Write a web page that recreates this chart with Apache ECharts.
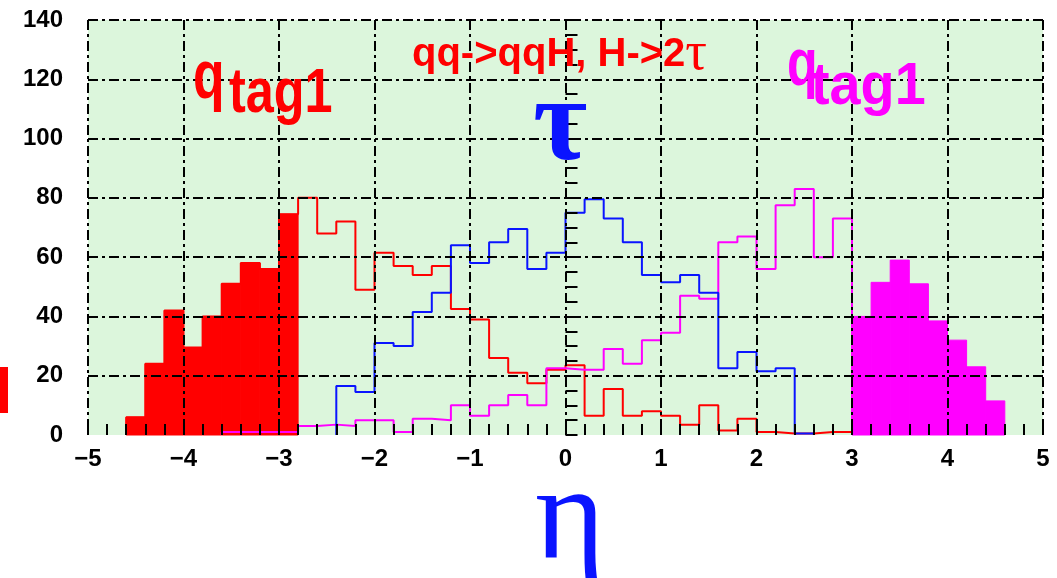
<!DOCTYPE html>
<html>
<head>
<meta charset="utf-8">
<style>html,body{margin:0;padding:0;background:#fff;}#c{width:1057px;height:578px;}</style>
<script src="https://cdn.jsdelivr.net/npm/echarts@6/dist/echarts.min.js"></script>
</head>
<body>
<div id="c"></div>
<script>
// ---- data (bin width 0.2 in eta) ----
const binWidth = 0.2;
const redStart = -4.6;   // q_tag1 (left) + its continuation
const redCounts = [6, 24, 42, 29.5, 40, 51, 58, 56, 74.5,
  80, 68, 72, 49, 61.5, 57, 54, 57, 42.5, 39,
  26, 21, 17.5, 22, 23.5, 6.5, 15.5, 6.5, 8, 6.5,
  3.5, 10, 1.5, 5.5, 1, 0.5, 0.5, 1, 1];
const redFilledBins = 9;
const blueStart = -2.4;  // tau
const blueCounts = [16.5, 14.5, 31, 30, 41.5, 48, 64, 58, 65, 69.5, 56, 61.5,
  75, 79.5, 73, 65, 54, 51.5, 54, 48, 22.5, 28, 21.5, 22.5, 0.5];
const magStart = -3.6;   // q_tag1 (right) continuation
const magCounts = [1, 1, 1, 1, 3, 3.5, 3, 5, 5, 1, 5.5, 5, 10, 6.5, 10, 13.5, 10,
  22.5, 22, 22, 29, 24, 32, 34.5, 47, 46, 65, 67, 56, 77.5, 83, 60, 73];
const magFillStart = 3.0;
const magFillCounts = [40, 51.5, 59, 51, 38.5, 32, 23, 11.5];
const xTickLabels = ['\u22125', '\u22124', '\u22123', '\u22122', '\u22121', '0', '1', '2', '3', '4', '5'];
const yTickLabels = ['0', '20', '40', '60', '80', '100', '120', '140'];

// ---- helpers ----
const r1 = v => Math.round(v * 10) / 10;
function stepData(start, counts) {
  const d = [[start, 0]];
  counts.forEach((c, i) => d.push([r1(start + i * binWidth), c]));
  const end = r1(start + counts.length * binWidth);
  d.push([end, counts[counts.length - 1]]);
  d.push([end, 0]);
  return d;
}
function barData(start, counts) {
  return counts.map((c, i) => [r1(start + i * binWidth), r1(start + (i + 1) * binWidth), c]);
}
function fillSeries(data, color) {
  return {
    type: 'custom', z: 1, data: data, encode: { x: [0, 1], y: 2 },
    renderItem: function (params, api) {
      const p0 = api.coord([api.value(0), 0]);
      const p1 = api.coord([api.value(1), api.value(2)]);
      return { type: 'rect', shape: { x: p0[0], y: p1[1], width: p1[0] - p0[0], height: p0[1] - p1[1] },
        style: { fill: color, stroke: color, lineWidth: 1 } };
    }
  };
}
function lineSeries(data, color) {
  return { type: 'line', step: 'end', z: 3, data: data, symbol: 'none', silent: true,
    lineStyle: { color: color, width: 2 } };
}

const RED = '#ff0000', BLUE = '#0a14ff', MAG = '#ff00ff';
const dashDot = [10, 4, 3, 4];
const axisFont = { color: '#000', fontFamily: 'Liberation Sans', fontWeight: 'bold', fontSize: 24 };

const chart = echarts.init(document.getElementById('c'), null, { renderer: 'canvas' });
chart.setOption({
  animation: false,
  backgroundColor: '#ffffff',
  grid: { left: 88, right: 14, top: 20, bottom: 143, show: true, borderWidth: 0, backgroundColor: '#dcf6dc' },
  xAxis: {
    type: 'value', min: -5, max: 5, interval: 1, z: 5,
    axisLine: { show: false },
    axisTick: { show: true, inside: true, length: 11, lineStyle: { color: '#000', width: 2 } },
    minorTick: { show: true, splitNumber: 5, length: 11, lineStyle: { color: '#000', width: 2 } },
    splitLine: { show: true, lineStyle: { color: '#000', width: 2, type: dashDot } },
    axisLabel: Object.assign({ margin: 12, formatter: v => xTickLabels[Math.round(v) + 5] }, axisFont)
  },
  yAxis: {
    type: 'value', min: 0, max: 140, interval: 20, z: 5,
    axisLine: { show: false },
    axisTick: { show: true, inside: true, length: 12, lineStyle: { color: '#000', width: 2 } },
    minorTick: { show: true, splitNumber: 4, length: 12, lineStyle: { color: '#000', width: 2 } },
    splitLine: { show: true, showMinLine: false, lineStyle: { color: '#000', width: 2, type: dashDot } },
    axisLabel: Object.assign({ margin: 25, formatter: v => yTickLabels[Math.round(v / 20)] }, axisFont)
  },
  series: [
    fillSeries(barData(redStart, redCounts.slice(0, redFilledBins)), RED),
    fillSeries(barData(magFillStart, magFillCounts), MAG),
    lineSeries(stepData(redStart, redCounts), RED),
    lineSeries(stepData(magStart, magCounts), MAG),
    lineSeries(stepData(blueStart, blueCounts), BLUE)
  ],
  graphic: [
    { type: 'rect', x: 0, y: 367, shape: { width: 8, height: 46 }, style: { fill: RED }, z: 20 },
    { type: 'text', x: 412, y: 28, z: 20, style: { text: 'qq->qqH, H->2{t|\u03c4}', fill: RED,
        font: 'bold 40px "Liberation Sans"', verticalAlign: 'top',
        rich: { t: { fontFamily: 'Liberation Serif', fontSize: 54, fill: RED } } } },
    { type: 'text', x: 193, y: 45, scaleX: 0.76, z: 20, style: { text: 'q', fill: RED,
        font: 'bold 68px "Liberation Sans"', verticalAlign: 'top' } },
    { type: 'text', x: 229, y: 63, scaleX: 0.8, z: 20, style: { text: 'tag1', fill: RED,
        font: 'bold 63px "Liberation Sans"', verticalAlign: 'top' } },
    { type: 'text', x: 787, y: 34, scaleX: 0.76, z: 20, style: { text: 'q', fill: MAG,
        font: 'bold 66px "Liberation Sans"', verticalAlign: 'top' } },
    { type: 'text', x: 811, y: 57, scaleX: 0.93, z: 20, style: { text: 'tag1', fill: MAG,
        font: 'bold 60px "Liberation Sans"', verticalAlign: 'top' } },
    { type: 'text', x: 533, y: 70, z: 20, style: { text: '\u03c4', fill: BLUE,
        font: 'bold 118px "Liberation Serif"', verticalAlign: 'top' } },
    { type: 'text', x: 535, y: 456, z: 20, style: { text: '\u03b7', fill: BLUE,
        font: '134px "Liberation Serif"', verticalAlign: 'top' } }
  ]
});
</script>
</body>
</html>
